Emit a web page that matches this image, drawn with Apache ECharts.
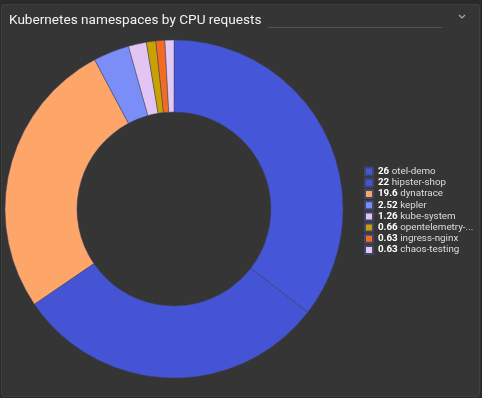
<!DOCTYPE html>
<html>
<head>
<meta charset="utf-8">
<script src="https://cdn.jsdelivr.net/npm/echarts@6/dist/echarts.min.js"></script>
<style>
html,body{margin:0;padding:0;background:#2a2a2a;}
#panel{position:absolute;left:1px;top:4px;width:477px;height:391px;background:#353535;border:1px solid #3f3f3f;border-radius:3px;}
#chart{position:absolute;left:0;top:0;width:482px;height:398px;}
</style>
</head>
<body>
<div id="panel"></div>
<div id="chart"></div>
<script>
var names = ['otel-demo','hipster-shop','dynatrace','kepler','kube-system','opentelemetry-...','ingress-nginx','chaos-testing'];
var values = [26, 22, 19.6, 2.52, 1.26, 0.66, 0.63, 0.63];
var colors = ['#4556d8','#4454d4','#fea66a','#7b8ef7','#e2c5f3','#c9a100','#f36b22','#e3c9f2'];

var chart = echarts.init(document.getElementById('chart'));
var data = names.map(function(n, i){ return {name: n, value: values[i]}; });

chart.setOption({
    backgroundColor: 'transparent',
    color: colors,
    title: {
        text: 'Kubernetes namespaces by CPU requests',
        left: 4, top: 9,
        textStyle: {color: '#f2f2f2', fontSize: 13.6, fontWeight: 'normal', fontFamily: 'Roboto'}
    },
    graphic: [
        {type: 'line', shape: {x1: 268, y1: 27.5, x2: 442, y2: 27.5}, style: {stroke: '#555', lineWidth: 1}},
        {type: 'polyline', shape: {points: [[459, 15], [462, 18], [465, 15]]}, style: {stroke: '#aaa', lineWidth: 1.2, fill: null}}
    ],
    legend: {
        orient: 'vertical',
        left: 364, top: 166,
        padding: 0,
        itemWidth: 8, itemHeight: 8,
        itemGap: 0,
        icon: 'rect',
        formatter: function(name){
            var i = names.indexOf(name);
            return '{v|' + values[i] + '} {n|' + name + '}';
        },
        textStyle: {
            color: '#ddd', fontSize: 9.8, fontFamily: 'Roboto', lineHeight: 11.2,
            rich: {
                v: {color: '#fff', fontWeight: 'bold', fontSize: 9.8, fontFamily: 'Roboto', lineHeight: 11.2},
                n: {color: '#ddd', fontSize: 9.8, fontFamily: 'Roboto', lineHeight: 11.2}
            }
        },
        data: names
    },
    series: [{
        type: 'pie',
        center: [174, 209],
        radius: [97, 169],
        startAngle: 90,
        clockwise: true,
        avoidLabelOverlap: false,
        label: {show: false},
        labelLine: {show: false},
        itemStyle: {borderColor: '#40466a', borderWidth: 0.5},
        emphasis: {disabled: true},
        data: data
    }]
});
</script>
</body>
</html>
